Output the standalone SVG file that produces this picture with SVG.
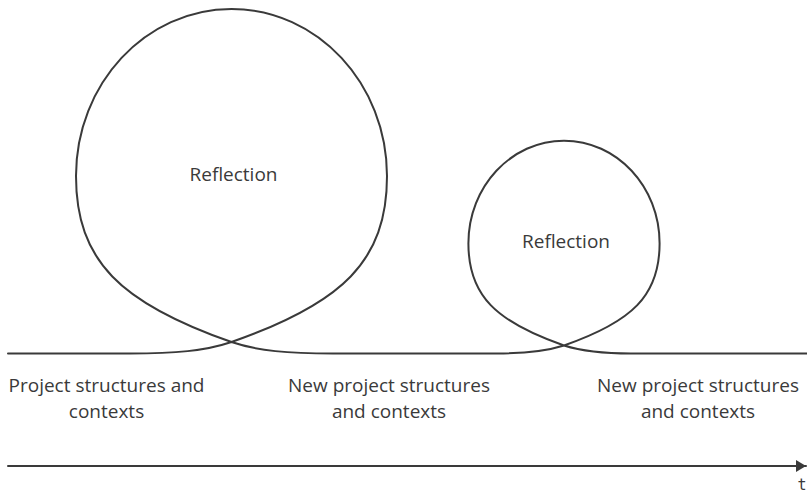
<svg xmlns="http://www.w3.org/2000/svg" width="807" height="494" viewBox="0 0 807 494">
  <style>
    .line { fill: none; stroke: #3a3a3a; stroke-width: 2; stroke-linecap: round; }
    .label { font-family: "Open Sans", "Noto Sans", sans-serif; font-size: 19px; fill: #3a3a3a; text-anchor: middle; }
    .axis-label { font-family: "DejaVu Sans Mono", "Liberation Mono", monospace; font-size: 15px; fill: #3a3a3a; text-anchor: middle; }
  </style>
  <defs>
    <marker id="arrow" viewBox="0 0 10 12" refX="10" refY="6" markerWidth="10" markerHeight="12" markerUnits="userSpaceOnUse" orient="auto">
      <path d="M0,0 L10,6 L0,12 Z" fill="#3a3a3a"/>
    </marker>
  </defs>

  <rect width="807" height="494" fill="#ffffff"/>

  <!-- project timeline with two reflection loops -->
  <g id="connectors">
    <path id="timeline" class="line" d="M8,353.5 L130,353.5
      C175,353.5 205,351 231.5,342
      C342,303.5 387,261 387,176
      C387,83.8 317.4,9 231.5,9
      C145.6,9 76,83.8 76,176
      C76,261 121,303.5 231.5,342
      C258,351 288,353.5 333,353.5
      L497,353.5
      C525,353.5 545,351.5 564,345.5
      C632,321.8 659.6,295.7 659.6,243.4
      C659.6,186.7 616.8,140.7 564,140.7
      C511.2,140.7 468.4,186.7 468.4,243.4
      C468.4,295.7 496,321.8 564,345.5
      C583,351.5 603,353.5 631,353.5
      L807,353.5"/>
    <line id="time-axis" class="line" x1="8" y1="466" x2="806" y2="466" marker-end="url(#arrow)"/>
  </g>

  <g id="reflection-1">
    <text class="label" x="233.5" y="181">Reflection</text>
  </g>
  <g id="reflection-2">
    <text class="label" x="566" y="248">Reflection</text>
  </g>

  <g id="context-1">
    <text class="label" x="106.5" y="392">Project structures and</text>
    <text class="label" x="106.5" y="418">contexts</text>
  </g>
  <g id="context-2">
    <text class="label" x="389" y="392">New project structures</text>
    <text class="label" x="389" y="418">and contexts</text>
  </g>
  <g id="context-3">
    <text class="label" x="698" y="392">New project structures</text>
    <text class="label" x="698" y="418">and contexts</text>
  </g>

  <g id="time-label">
    <text class="axis-label" x="802" y="490">t</text>
  </g>
</svg>
